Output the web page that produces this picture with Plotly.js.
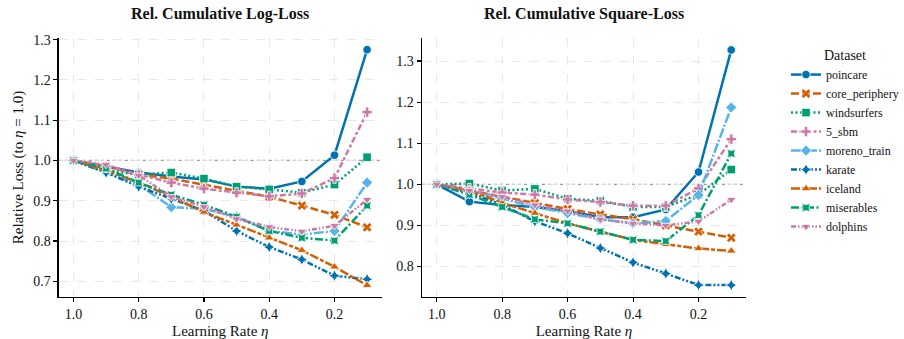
<!DOCTYPE html>
<html>
<head>
<meta charset="utf-8">
<script src="https://cdn.plot.ly/plotly-3.0.1.min.js"></script>
<style>html,body{margin:0;padding:0;background:#fff;}#chart{width:904px;height:339px;}</style>
</head>
<body>
<div id="chart"></div>
<script>
const eta = [1.0, 0.9, 0.8, 0.7, 0.6, 0.5, 0.4, 0.3, 0.2, 0.1];
const datasets = ["poincare", "core_periphery", "windsurfers", "5_sbm", "moreno_train", "karate", "iceland", "miserables", "dolphins"];

const logLoss = {
  poincare:       [1.0, 0.985, 0.97, 0.96, 0.953, 0.935, 0.93, 0.948, 1.013, 1.275],
  core_periphery: [1.0, 0.985, 0.965, 0.955, 0.94, 0.925, 0.91, 0.888, 0.865, 0.834],
  windsurfers:    [1.0, 0.975, 0.965, 0.97, 0.955, 0.935, 0.928, 0.92, 0.94, 1.008],
  "5_sbm":        [1.0, 0.985, 0.965, 0.945, 0.93, 0.92, 0.911, 0.918, 0.956, 1.12],
  moreno_train:   [1.0, 0.97, 0.94, 0.884, 0.88, 0.86, 0.825, 0.816, 0.825, 0.945],
  karate:         [1.0, 0.97, 0.935, 0.905, 0.875, 0.825, 0.785, 0.754, 0.714, 0.705],
  iceland:        [1.0, 0.975, 0.945, 0.91, 0.872, 0.84, 0.808, 0.777, 0.736, 0.69],
  miserables:     [1.0, 0.98, 0.945, 0.915, 0.89, 0.86, 0.825, 0.808, 0.801, 0.888],
  dolphins:       [1.0, 0.99, 0.963, 0.91, 0.885, 0.855, 0.835, 0.824, 0.838, 0.903]
};

const squareLoss = {
  poincare:       [1.0, 0.958, 0.95, 0.945, 0.935, 0.92, 0.92, 0.939, 1.03, 1.327],
  core_periphery: [1.0, 0.985, 0.97, 0.955, 0.94, 0.927, 0.915, 0.9, 0.885, 0.87],
  windsurfers:    [1.0, 1.002, 0.985, 0.989, 0.965, 0.96, 0.945, 0.945, 0.975, 1.036],
  "5_sbm":        [1.0, 0.99, 0.98, 0.975, 0.963, 0.957, 0.948, 0.948, 0.99, 1.11],
  moreno_train:   [1.0, 0.985, 0.965, 0.945, 0.93, 0.915, 0.905, 0.911, 0.974, 1.187],
  karate:         [1.0, 0.98, 0.95, 0.91, 0.881, 0.845, 0.81, 0.783, 0.755, 0.755],
  iceland:        [1.0, 0.985, 0.955, 0.93, 0.905, 0.885, 0.865, 0.854, 0.844, 0.838],
  miserables:     [1.0, 0.975, 0.945, 0.915, 0.905, 0.885, 0.865, 0.862, 0.925, 1.075],
  dolphins:       [1.0, 0.985, 0.97, 0.95, 0.935, 0.915, 0.905, 0.9, 0.91, 0.963]
};

const xTicks = [1.0, 0.8, 0.6, 0.4, 0.2];
const logTicks = [0.7, 0.8, 0.9, 1.0, 1.1, 1.2, 1.3];
const sqTicks = [0.8, 0.9, 1.0, 1.1, 1.2, 1.3];

const colors = ["#0072B2", "#D55E00", "#009E73", "#CC79A7", "#56B4E9", "#0072B2", "#D55E00", "#009E73", "#CC79A7"];
const symbols = ["circle", "x", "square", "cross", "diamond", "star-diamond", "triangle-up", "star-square", "triangle-down"];
const dashes = ["solid", "8px,3px", "2px,2.5px", "6px,2.5px,3px,2.5px", "10px,2px,2px,2px", "6px,2px,2px,2px,2px,2px", "9px,2px,4px,2px", "8px,2.5px,2px,2.5px", "5px,2px,1.5px,2px,1.5px,2px"];

const FONT = "Liberation Serif";
const traces = [];
datasets.forEach((name, i) => {
  [[logLoss, "x", "y", true], [squareLoss, "x2", "y2", false]].forEach(([src, xa, ya, show]) => {
    traces.push({
      type: "scatter", mode: "lines+markers",
      x: eta, y: src[name], xaxis: xa, yaxis: ya,
      name: name, legendgroup: name, showlegend: show,
      line: {color: colors[i], width: 2.5, dash: dashes[i]},
      marker: {symbol: symbols[i], size: 8.5, color: colors[i], line: {color: "white", width: 0.8}}
    });
  });
});

function xaxis(domain, anchor) {
  return {
    domain: domain, anchor: anchor, range: [1.045, 0.055],
    tickvals: xTicks, tickformat: ".1f",
    showline: true, linecolor: "#000", linewidth: 1.3, mirror: false,
    ticks: "outside", ticklen: 4, tickwidth: 1.1, tickcolor: "#000",
    showgrid: true, gridcolor: "#e3e3e3", griddash: "dash", gridwidth: 0.8,
    zeroline: false,
    tickfont: {family: FONT, size: 14, color: "#111"},
    title: {text: "Learning Rate <i>η</i>", font: {family: FONT, size: 15, color: "#111"}, standoff: 5}
  };
}
function yaxis(range, ticks, anchor, title) {
  return {
    domain: [0, 1], anchor: anchor, range: range,
    tickvals: ticks, tickformat: ".1f",
    showline: true, linecolor: "#000", linewidth: 1.3,
    ticks: "outside", ticklen: 4, tickwidth: 1.1, tickcolor: "#000",
    showgrid: true, gridcolor: "#e3e3e3", griddash: "dash", gridwidth: 0.8,
    zeroline: false,
    tickfont: {family: FONT, size: 14, color: "#111"},
    title: title ? {text: title, font: {family: FONT, size: 15, color: "#111"}, standoff: 6} : {text: ""}
  };
}

const layout = {
  width: 904, height: 339,
  margin: {l: 0, r: 0, t: 38, b: 42},
  paper_bgcolor: "white", plot_bgcolor: "white",
  font: {family: FONT, color: "#111"},
  xaxis: xaxis([60/904, 390/904], "y"),
  yaxis: yaxis([0.661, 1.304], logTicks, "x", "Relative Loss (to <i>η</i> = 1.0)"),
  xaxis2: xaxis([431/904, 762/904], "y2"),
  yaxis2: yaxis([0.726, 1.356], sqTicks, "x2", null),
  shapes: [
    {type: "line", xref: "x domain", yref: "y", x0: 0, x1: 1, y0: 1.0, y1: 1.0, layer: "below", line: {color: "#999", width: 1.3, dash: "dot"}},
    {type: "line", xref: "x2 domain", yref: "y2", x0: 0, x1: 1, y0: 1.0, y1: 1.0, layer: "below", line: {color: "#999", width: 1.3, dash: "dot"}}
  ],
  annotations: [
    {text: "<b>Rel. Cumulative Log-Loss</b>", xref: "x domain", yref: "paper", x: 0.5, y: 1, yshift: 13, showarrow: false, xanchor: "center", yanchor: "bottom", font: {family: FONT, size: 16, color: "#111"}},
    {text: "<b>Rel. Cumulative Square-Loss</b>", xref: "x2 domain", yref: "paper", x: 0.5, y: 1, yshift: 13, showarrow: false, xanchor: "center", yanchor: "bottom", font: {family: FONT, size: 16, color: "#111"}}
  ],
  legend: {
    x: 803/904, xanchor: "left", y: 0.985, yanchor: "top",
    title: {text: "Dataset", font: {family: FONT, size: 14, color: "#111"}, side: "top center"},
    font: {family: FONT, size: 12, color: "#111"},
    bgcolor: "rgba(0,0,0,0)", borderwidth: 0,
    itemwidth: 30, tracegroupgap: 0
  },
  showlegend: true
};

Plotly.newPlot("chart", traces, layout, {displayModeBar: false, staticPlot: true});
</script>
</body>
</html>
